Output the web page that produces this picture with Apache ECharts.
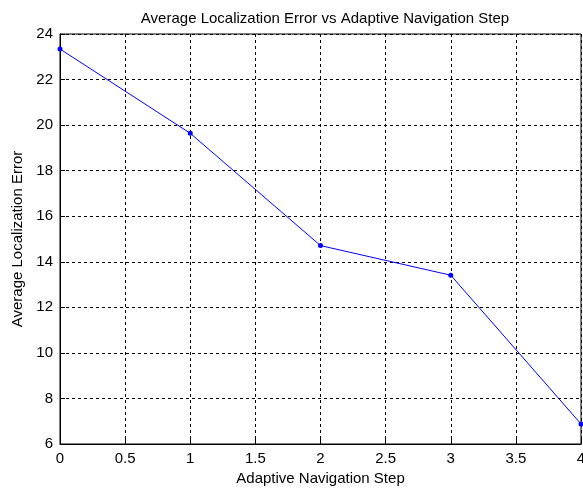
<!DOCTYPE html>
<html>
<head>
<meta charset="utf-8">
<script src="https://cdn.jsdelivr.net/npm/echarts@6/dist/echarts.min.js"></script>
<style>
  html, body { margin: 0; padding: 0; background: #fff; }
  #chart { width: 583px; height: 493px; }
</style>
</head>
<body>
<div id="chart"></div>
<script>
// Adaptive navigation step vs. mean localization error
const steps = [0, 1, 2, 3, 4];
const avgError = [23.34, 19.64, 14.71, 13.41, 6.88];

const xMin = 0, xMax = 4, xStep = 0.5;
const yMin = 6, yMax = 24, yStep = 2;

const font = 'Liberation Sans, Arial, Helvetica, sans-serif';

const chart = echarts.init(document.getElementById('chart'), null, { renderer: 'canvas' });

const gridLine = { show: true, lineStyle: { color: '#000', type: [3, 3], width: 1 } };

chart.setOption({
  backgroundColor: '#fff',
  animation: false,
  title: {
    text: 'Average Localization Error vs Adaptive Navigation Step',
    left: 320, top: 6, textAlign: 'center',
    textStyle: { fontFamily: font, fontSize: 15, fontWeight: 'normal', color: '#000' }
  },
  grid: {
    left: 60, right: 2, top: 34, bottom: 49,
    outerBoundsMode: 'none',
    show: true, borderColor: '#000', borderWidth: 1, backgroundColor: '#fff'
  },
  xAxis: {
    type: 'value', min: xMin, max: xMax, interval: xStep,
    name: 'Adaptive Navigation Step', nameLocation: 'middle', nameGap: 27,
    nameTextStyle: { fontFamily: font, fontSize: 15, color: '#000' },
    axisLine: { show: true, onZero: false, lineStyle: { color: '#000' } },
    axisTick: { show: true, inside: true, length: 5, lineStyle: { color: '#000' } },
    axisLabel: { fontFamily: font, fontSize: 15, color: '#000', margin: 7 },
    splitLine: gridLine
  },
  yAxis: {
    type: 'value', min: yMin, max: yMax, interval: yStep,
    name: 'Average Localization Error', nameLocation: 'middle', nameGap: 34,
    nameTextStyle: { fontFamily: font, fontSize: 15, color: '#000' },
    axisLine: { show: true, lineStyle: { color: '#000' } },
    axisTick: { show: true, inside: true, length: 5, lineStyle: { color: '#000' } },
    axisLabel: { fontFamily: font, fontSize: 15, color: '#000', margin: 7 },
    splitLine: gridLine
  },
  series: [{
    type: 'line',
    data: steps.map((s, i) => [s, avgError[i]]),
    symbol: 'circle', symbolSize: 5,
    itemStyle: { color: '#0000ff' },
    lineStyle: { color: '#0000ff', width: 1 },
    clip: false
  }]
});
</script>
</body>
</html>
